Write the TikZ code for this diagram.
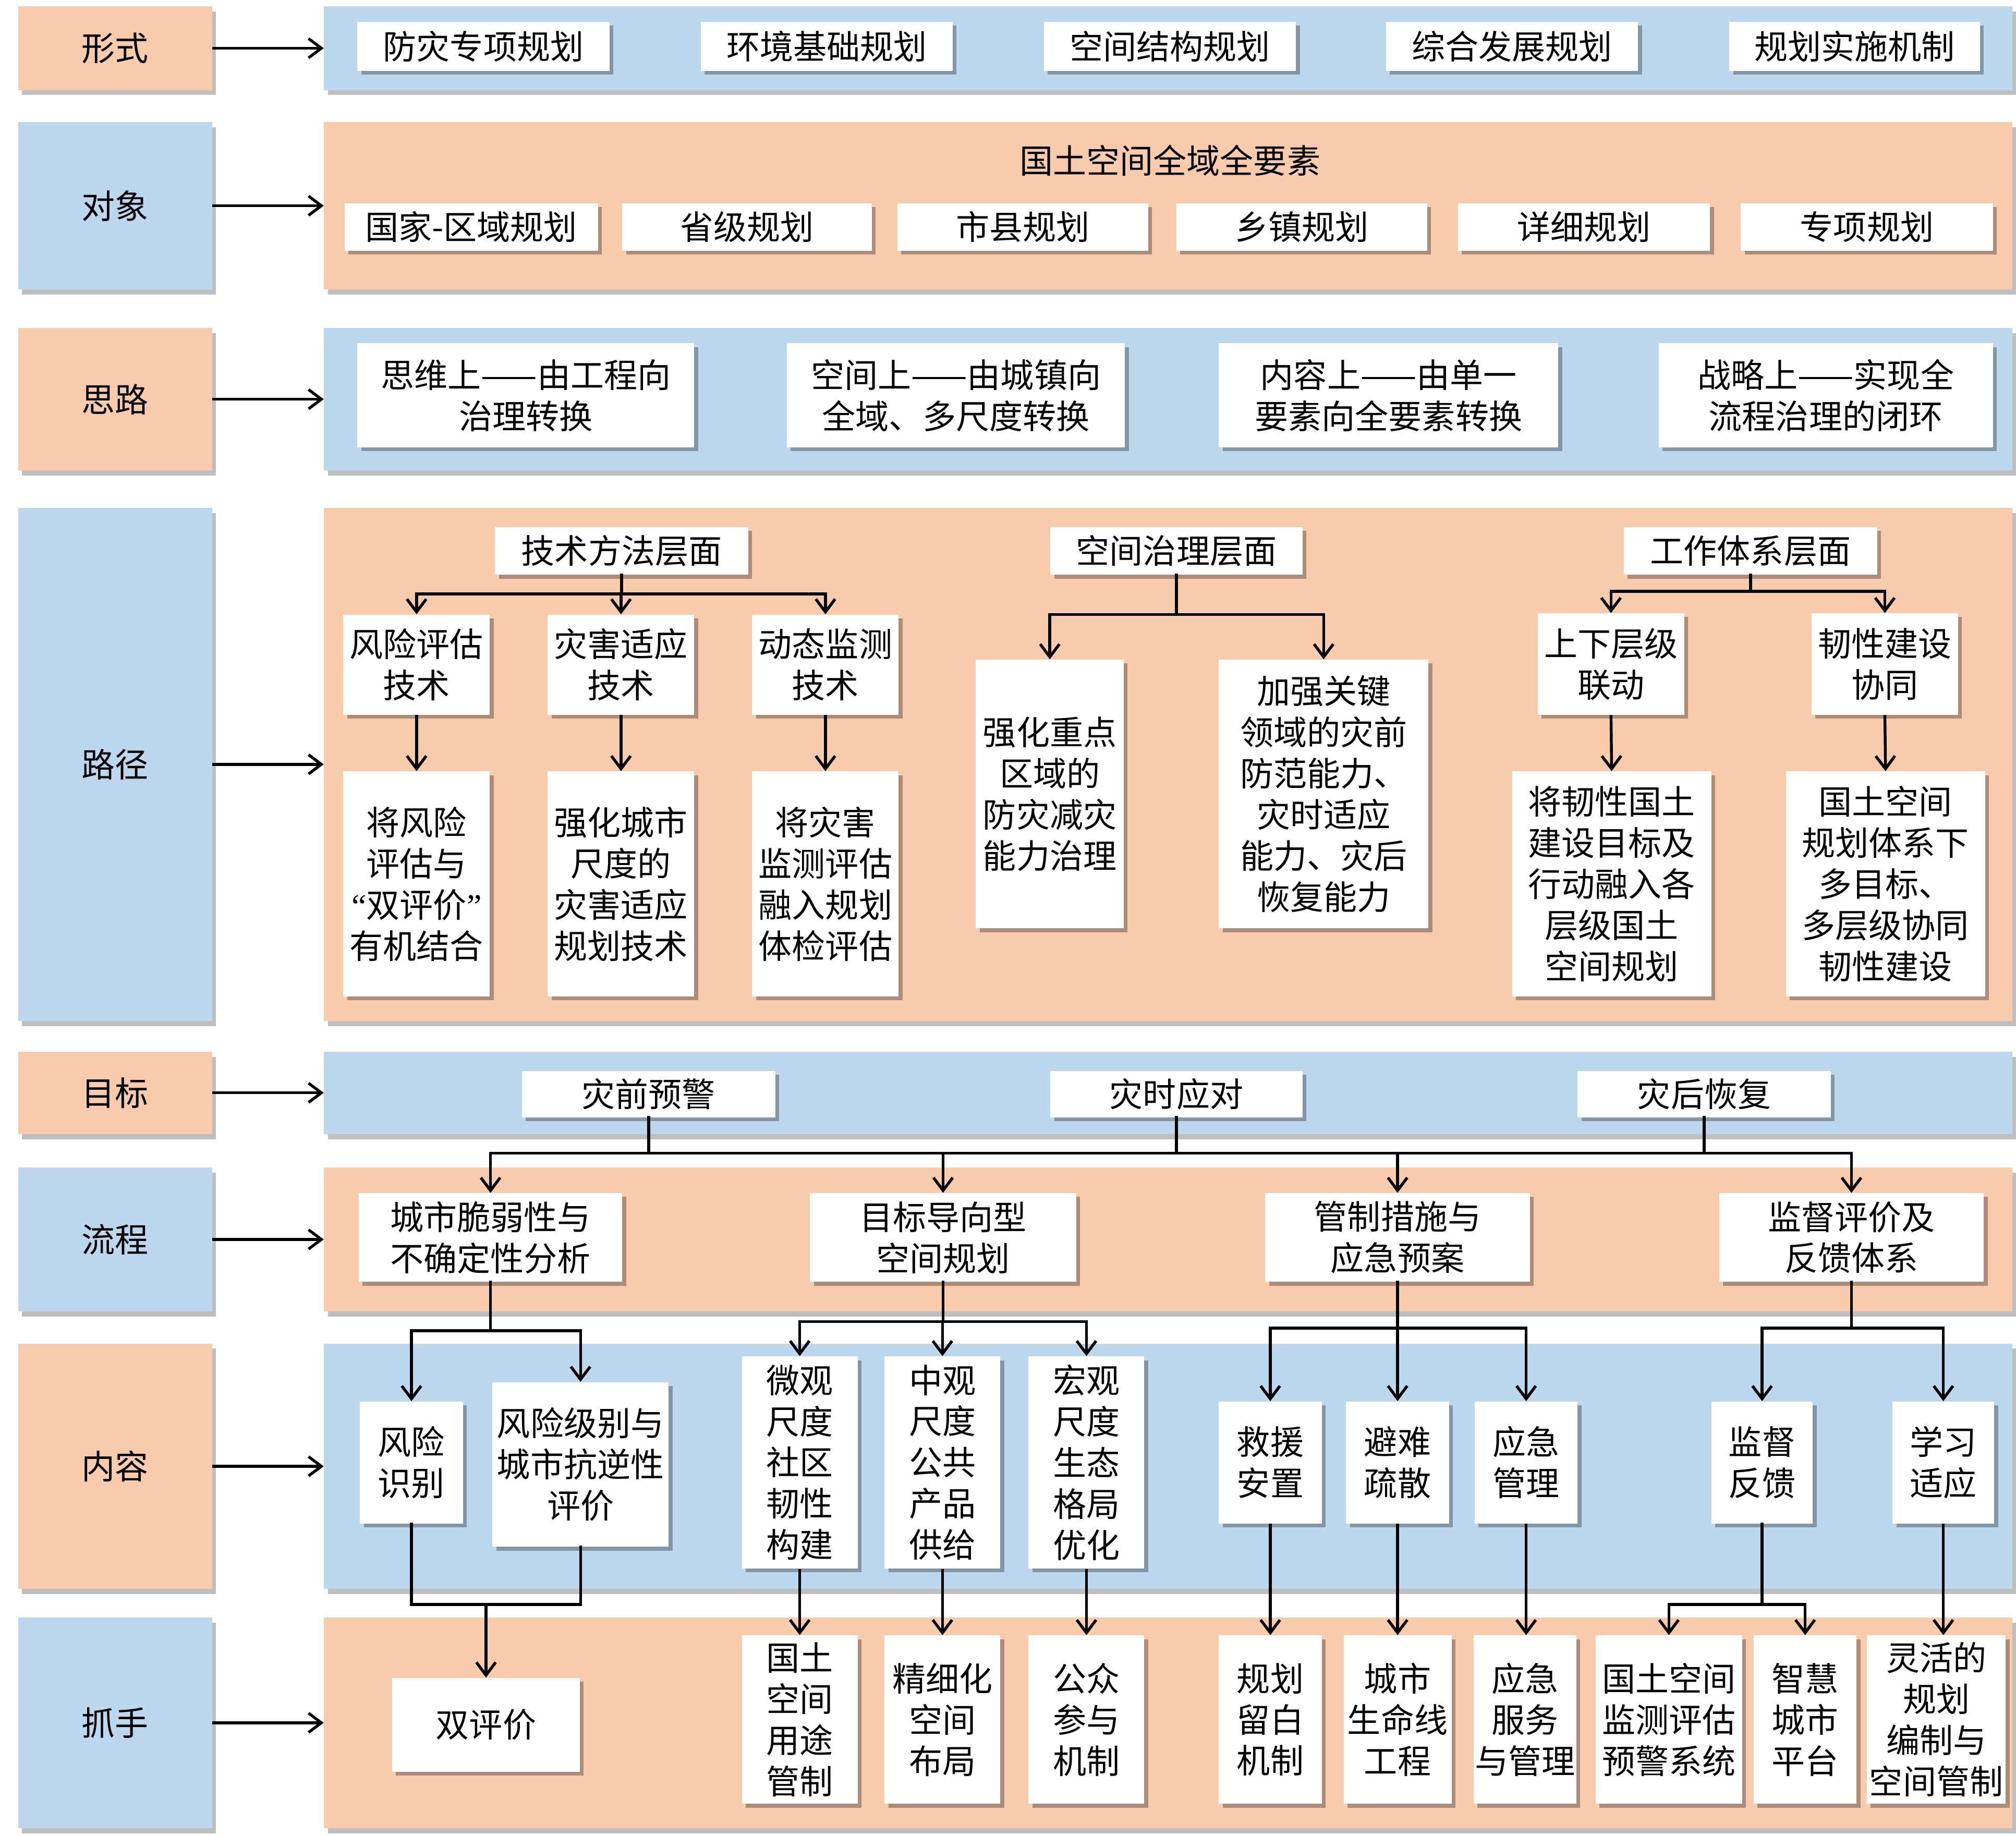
\documentclass[tikz,border=0pt]{standalone}
\usepackage{fontspec}
\newfontfamily\cjk{Noto Sans CJK SC}
\newfontfamily\lat{Liberation Serif}
\usetikzlibrary{shadows,arrows.meta}
\definecolor{org}{HTML}{F8CBAD}
\definecolor{blu}{HTML}{BDD7EE}
\newcommand\mybox[7][wb]{\node[#1,minimum width={(#5-#3)*1pt},minimum height={(#6-#4)*1pt}] (#2) at ({(#3+#5)/2},{(#4+#6)/2}) {#7};}
\begin{document}
\begin{tikzpicture}[x=1pt,y=-1pt,
  txt/.style={font=\cjk\fontsize{26}{32}\selectfont,align=center,text=black},
  wb/.style={txt,fill=white,inner sep=0pt,drop shadow={shadow xshift=3pt,shadow yshift=-3pt,fill=black,opacity=0.3}},
  po/.style={txt,fill=org,inner sep=0pt,drop shadow={shadow xshift=3pt,shadow yshift=-4pt,fill=black,opacity=0.25}},
  pb/.style={txt,fill=blu,inner sep=0pt,drop shadow={shadow xshift=3pt,shadow yshift=-4pt,fill=black,opacity=0.25}},
  conn/.style={line width=2.2pt,line cap=rect},
  arr/.style={line width=2.2pt,-{Straight Barb[length=10pt,width=15pt]}}
]
\useasboundingbox (0,0) rectangle (1568,1427.7);
\fill[white] (0,0) rectangle (1568,1427.7);

% ---------- labels and panels ----------
\mybox[po]{L1}{14}{5}{165}{70}{形式}
\mybox[pb]{P1}{252}{5}{1565}{70}{}
\mybox[pb]{L2}{14}{95}{165}{225}{对象}
\mybox[po]{P2}{252}{95}{1565}{225}{}
\mybox[po]{L3}{14}{255}{165}{366}{思路}
\mybox[pb]{P3}{252}{255}{1565}{366}{}
\mybox[pb]{L4}{14}{395}{165}{794}{路径}
\mybox[po]{P4}{252}{395}{1565}{794}{}
\mybox[po]{L5}{14}{818}{165}{882}{目标}
\mybox[pb]{P5}{252}{818}{1565}{882}{}
\mybox[pb]{L6}{14}{908}{165}{1020}{流程}
\mybox[po]{P6}{252}{908}{1565}{1020}{}
\mybox[po]{L7}{14}{1045}{165}{1236}{内容}
\mybox[pb]{P7}{252}{1045}{1565}{1236}{}
\mybox[pb]{L8}{14}{1258}{165}{1422}{抓手}
\mybox[po]{P8}{252}{1258}{1565}{1422}{}

\foreach \i in {1,...,8} \draw[arr] (L\i.east) -- (P\i.west);

% ---------- row 1 ----------
\mybox{p1}{278}{17}{474}{55}{防灾专项规划}
\mybox{p2}{545}{17}{741}{55}{环境基础规划}
\mybox{p3}{812}{17}{1008}{55}{空间结构规划}
\mybox{p4}{1078}{17}{1274}{55}{综合发展规划}
\mybox{p5}{1345}{17}{1540}{55}{规划实施机制}

% ---------- row 2 ----------
\node[txt] (q0) at (910,125) {国土空间全域全要素};
\mybox{q1}{268}{158}{465}{195}{国家-区域规划}
\mybox{q2}{484}{158}{678}{195}{省级规划}
\mybox{q3}{698}{158}{893}{195}{市县规划}
\mybox{q4}{915}{158}{1110}{195}{乡镇规划}
\mybox{q5}{1134}{158}{1330}{195}{详细规划}
\mybox{q6}{1354}{158}{1550}{195}{专项规划}

% ---------- row 3 ----------
\mybox{s1}{278}{267}{540}{348}{思维上——由工程向\\治理转换}
\mybox{s2}{612}{267}{875}{348}{空间上——由城镇向\\全域、多尺度转换}
\mybox{s3}{948}{267}{1212}{348}{内容上——由单一\\要素向全要素转换}
\mybox{s4}{1290}{267}{1550}{348}{战略上——实现全\\流程治理的闭环}

% ---------- row 4 ----------
\mybox{t1}{385}{410}{582}{447}{技术方法层面}
\mybox{t2}{817}{410}{1013}{447}{空间治理层面}
\mybox{t3}{1263}{410}{1460}{447}{工作体系层面}

\mybox{a1}{267}{478}{381}{556}{风险评估\\技术}
\mybox{a2}{426}{478}{540}{556}{灾害适应\\技术}
\mybox{a3}{585}{478}{699}{556}{动态监测\\技术}
\mybox{b1}{267}{600}{381}{775}{将风险\\评估与\\{\lat “}双评价{\lat ”}\\有机结合}
\mybox{b2}{426}{600}{540}{775}{强化城市\\尺度的\\灾害适应\\规划技术}
\mybox{b3}{585}{600}{699}{775}{将灾害\\监测评估\\融入规划\\体检评估}

\mybox{c1}{759}{513}{874}{722}{强化重点\\区域的\\防灾减灾\\能力治理}
\mybox{c2}{948}{513}{1111}{722}{加强关键\\领域的灾前\\防范能力、\\灾时适应\\能力、灾后\\恢复能力}

\mybox{d1}{1196}{477}{1310}{556}{上下层级\\联动}
\mybox{d2}{1409}{477}{1523}{556}{韧性建设\\协同}
\mybox{e1}{1176}{600}{1331}{775}{将韧性国土\\建设目标及\\行动融入各\\层级国土\\空间规划}
\mybox{e2}{1389}{600}{1544}{775}{国土空间\\规划体系下\\多目标、\\多层级协同\\韧性建设}

\coordinate (j1) at (483.5,462);
\draw[conn] (t1.south) -- (j1);
\draw[conn] (j1 -| a1.north) -- (j1 -| a3.north);
\foreach \n in {a1,a2,a3} \draw[arr] (j1 -| \n.north) -- (\n.north);
\foreach \n/\m in {a1/b1,a2/b2,a3/b3} \draw[arr] (\n.south) -- (\m.north);

\coordinate (j2) at (915,478);
\draw[conn] (t2.south) -- (j2);
\draw[conn] (j2 -| c1.north) -- (j2 -| c2.north);
\foreach \n in {c1,c2} \draw[arr] (j2 -| \n.north) -- (\n.north);

\coordinate (j3) at (1361.5,460);
\draw[conn] (t3.south) -- (j3);
\draw[conn] (j3 -| d1.north) -- (j3 -| d2.north);
\foreach \n in {d1,d2} \draw[arr] (j3 -| \n.north) -- (\n.north);
\foreach \n/\m in {d1/e1,d2/e2} \draw[arr] (\n.south) -- (\m.north);

% ---------- row 5 ----------
\mybox{g1}{406}{833}{603}{869}{灾前预警}
\mybox{g2}{817}{833}{1013}{869}{灾时应对}
\mybox{g3}{1227}{833}{1424}{869}{灾后恢复}

% ---------- row 6 ----------
\mybox{f1}{279}{928}{484}{997}{城市脆弱性与\\不确定性分析}
\mybox{f2}{630}{928}{837}{997}{目标导向型\\空间规划}
\mybox{f3}{984}{928}{1190}{997}{管制措施与\\应急预案}
\mybox{f4}{1337}{928}{1543}{997}{监督评价及\\反馈体系}

\coordinate (j5) at (915,897);
\foreach \n in {g1,g2,g3} \draw[conn] (\n.south) -- (\n.south |- j5);
\draw[conn] (j5 -| f1.north) -- (j5 -| f4.north);
\foreach \n in {f1,f2,f3,f4} \draw[arr] (j5 -| \n.north) -- (\n.north);

% ---------- row 7 ----------
\mybox{h1}{280}{1090}{360}{1185}{风险\\识别}
\mybox{h2}{383}{1075}{520}{1203}{风险级别与\\城市抗逆性\\评价}
\mybox{h3}{577}{1055}{667}{1220}{微观\\尺度\\社区\\韧性\\构建}
\mybox{h4}{688}{1055}{778}{1220}{中观\\尺度\\公共\\产品\\供给}
\mybox{h5}{800}{1055}{890}{1220}{宏观\\尺度\\生态\\格局\\优化}
\mybox{h6}{948}{1090}{1028}{1185}{救援\\安置}
\mybox{h7}{1047}{1090}{1127}{1185}{避难\\疏散}
\mybox{h8}{1147}{1090}{1227}{1185}{应急\\管理}
\mybox{h9}{1331}{1090}{1410}{1185}{监督\\反馈}
\mybox{h10}{1472}{1090}{1551}{1185}{学习\\适应}

\coordinate (j61) at (381.5,1035);
\draw[conn] (f1.south) -- (j61);
\draw[conn] (j61 -| h1.north) -- (j61 -| h2.north);
\foreach \n in {h1,h2} \draw[arr] (j61 -| \n.north) -- (\n.north);

\coordinate (j62) at (733.5,1028);
\draw[conn] (f2.south) -- (j62);
\draw[conn] (j62 -| h3.north) -- (j62 -| h5.north);
\foreach \n in {h3,h4,h5} \draw[arr] (j62 -| \n.north) -- (\n.north);

\coordinate (j63) at (1087,1033);
\draw[conn] (f3.south) -- (j63);
\draw[conn] (j63 -| h6.north) -- (j63 -| h8.north);
\foreach \n in {h6,h7,h8} \draw[arr] (j63 -| \n.north) -- (\n.north);

\coordinate (j64) at (1440,1033);
\draw[conn] (f4.south) -- (j64);
\draw[conn] (j64 -| h9.north) -- (j64 -| h10.north);
\foreach \n in {h9,h10} \draw[arr] (j64 -| \n.north) -- (\n.north);

% ---------- row 8 ----------
\mybox{k1}{305}{1305}{451}{1378}{双评价}
\mybox{k2}{577}{1272}{667}{1403}{国土\\空间\\用途\\管制}
\mybox{k3}{688}{1272}{778}{1403}{精细化\\空间\\布局}
\mybox{k4}{800}{1272}{890}{1403}{公众\\参与\\机制}
\mybox{k5}{948}{1272}{1028}{1403}{规划\\留白\\机制}
\mybox{k6}{1045}{1272}{1129}{1403}{城市\\生命线\\工程}
\mybox{k7}{1146}{1272}{1226}{1403}{应急\\服务\\与管理}
\mybox{k8}{1241}{1272}{1355}{1403}{国土空间\\监测评估\\预警系统}
\mybox{k9}{1364}{1272}{1444}{1403}{智慧\\城市\\平台}
\mybox{k10}{1452}{1272}{1560}{1403}{灵活的\\规划\\编制与\\空间管制}

\coordinate (j71) at (378,1248);
\draw[conn] (h1.south) -- (h1.south |- j71) -- (h2.south |- j71) -- (h2.south);
\draw[arr] (j71) -- (k1.north);
\foreach \n/\m in {h3/k2,h4/k3,h5/k4,h6/k5,h7/k6,h8/k7} \draw[arr] (\n.south) -- (\n.south |- \m.north);
\coordinate (j72) at (1370.5,1248);
\draw[conn] (h9.south) -- (j72);
\draw[conn] (j72 -| k8.north) -- (j72 -| k9.north);
\foreach \n in {k8,k9} \draw[arr] (j72 -| \n.north) -- (\n.north);
\draw[arr] (h10.south) -- (h10.south |- k10.north);
\end{tikzpicture}
\end{document}
